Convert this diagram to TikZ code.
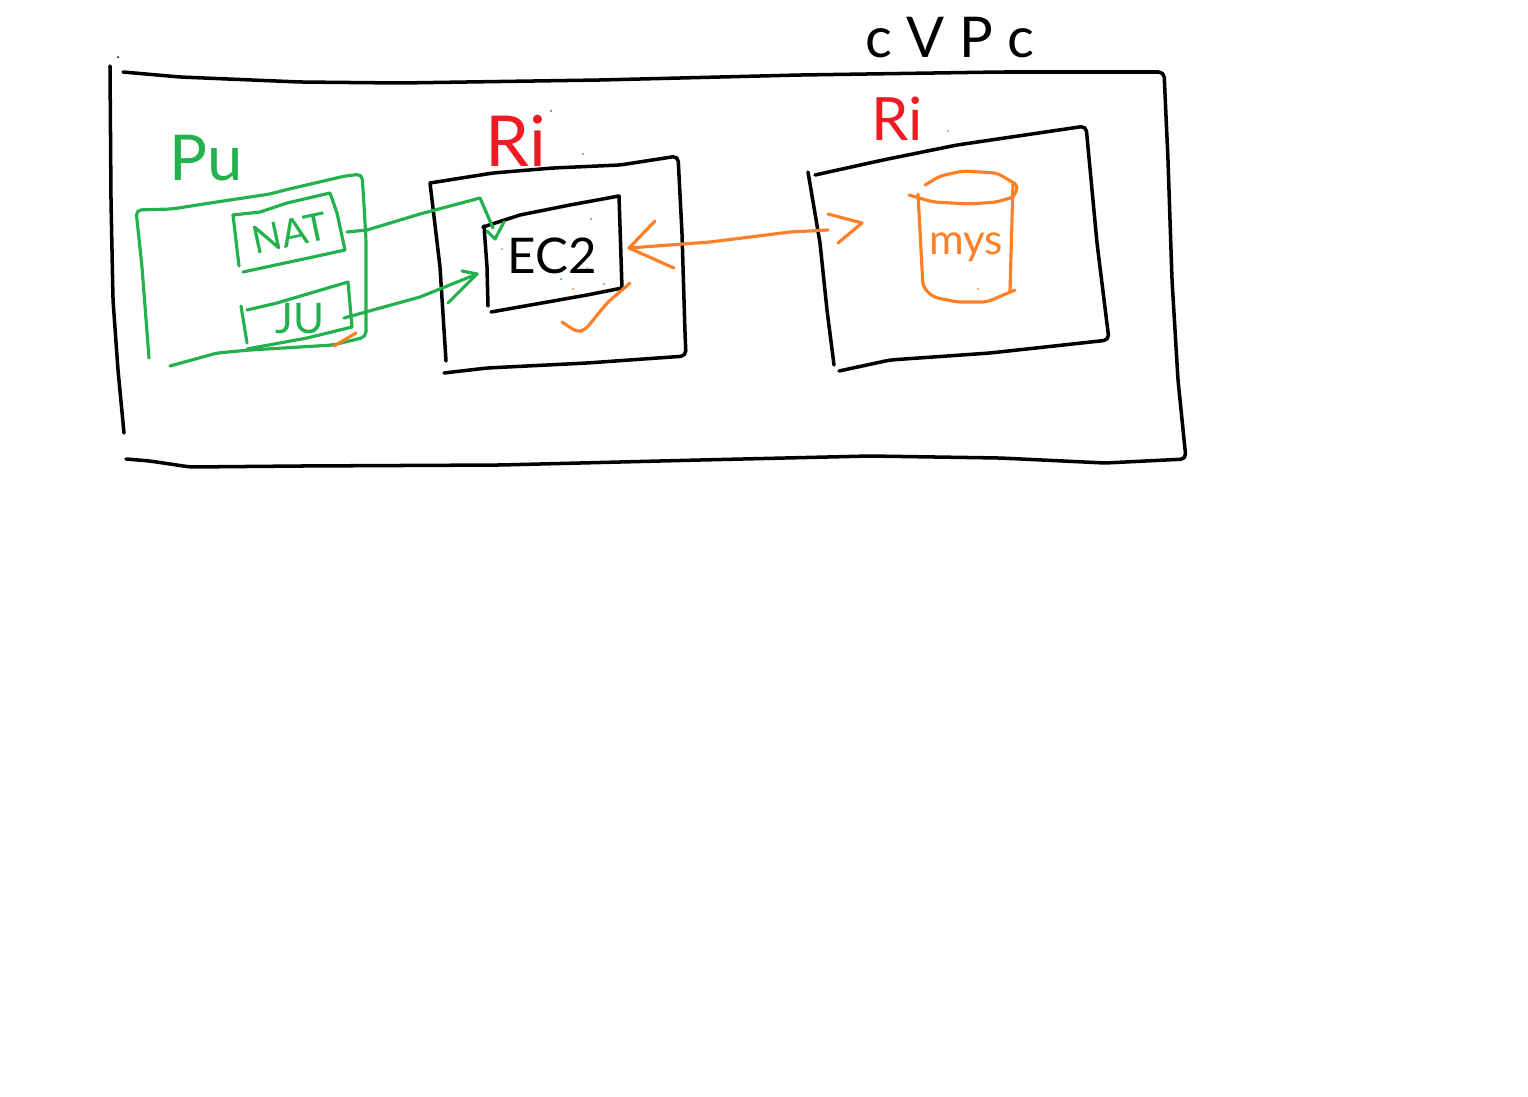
\documentclass[tikz,border=0pt]{standalone}
\usepackage{fontspec}
\setmainfont{Lato}
\usepackage{xcolor}
\definecolor{sketchgreen}{HTML}{22B14C}
\definecolor{sketchred}{HTML}{ED1C24}
\definecolor{sketchorange}{HTML}{FF7F27}
\tikzset{
	blackline/.style={draw=black,line width=2pt,line cap=round,line join=round},
	greenline/.style={draw=sketchgreen,line width=1.8pt,line cap=round,line join=round},
	orangeline/.style={draw=sketchorange,line width=1.8pt,line cap=round,line join=round},
	soft/.style={rounded corners=3pt},
	scrawl/.style={inner sep=0pt,font=\fontsize{#1}{#1}\selectfont},
}
\begin{document}
\begin{tikzpicture}[x=0.02cm,y=-0.02cm]
		\useasboundingbox (0,0) rectangle (1528,1096);
		
		\draw[blackline,soft] (123,72) -- (180,77) -- (300,82) -- (400,83) -- (600,80) -- (800,75) -- (1000,72) -- (1164,72) -- (1168,160) -- (1172,280) -- (1178,380) -- (1186,459) -- (1105,463) -- (1000,458) -- (870,456) -- (700,460) -- (500,465) -- (300,466) -- (190,467) -- (150,461) -- (126,459);
		\draw[blackline,soft] (110,66) -- (111,200) -- (113,300) -- (118,370) -- (124,433);
		\node[scrawl=32] (vpclabel) at (950,38) {c V P c};
		
		\draw[greenline,soft] (149,358) -- (142,267) -- (136,210) -- (172,209) -- (210,203) -- (270,194) -- (285,190) -- (345,176) -- (362,174) -- (364,205) -- (366,240) -- (366,337) -- (345,342) -- (333,345) -- (250,350) -- (217,353) -- (170,366);
		\draw[orangeline] (334,346) -- (356,333);
		\node[scrawl=36,text=sketchgreen] (publabel) at (206,158) {Pu};
		
		\draw[greenline] (239,266) -- (233,215) -- (260,212) -- (287,203) -- (330,193) -- (337,213) -- (345,250) -- (313,257) -- (243,272);
		\node[scrawl=22,text=sketchgreen,rotate=12] (nat) at (290,233) {NAT};
		\draw[greenline] (247,310) -- (277,303) -- (348,282) -- (352,327) -- (307,338) -- (247,349);
		\draw[greenline] (241,306) -- (247,343);
		\node[scrawl=24,text=sketchgreen] (ju) at (300,319) {JU};
		
		\draw[blackline,soft] (430,183) -- (493,173) -- (553,168) -- (620,165) -- (678,156) -- (682,233) -- (685,333) -- (686,356) -- (587,363) -- (487,368) -- (444,373);
		\draw[blackline] (430,183) -- (440,267) -- (446,361);
		\node[scrawl=40,text=sketchred] (rione) at (516,141) {Ri};
		
		\draw[blackline] (483,227) -- (520,215) -- (570,205) -- (619,196) -- (622,288) -- (587,295) -- (491,312);
		\draw[blackline] (484,226) -- (487,267) -- (488,306);
		\node[scrawl=28] (ectwo) at (552,256) {EC2};
		
		\draw[blackline] (808,172) -- (820,243) -- (827,310) -- (834,365);
		\draw[blackline,soft] (815,175) -- (883,160) -- (957,145) -- (1086,126) -- (1097,243) -- (1109,340) -- (990,353) -- (890,360) -- (839,371);
		\node[scrawl=34,text=sketchred] (ritwo) at (897,119) {Ri};
		
		\draw[orangeline,soft] (925,185) -- (940,176) -- (963,171) -- (997,173) -- (1019,186) -- (1013,197);
		\draw[orangeline,soft] (909,195) -- (933,202) -- (970,204) -- (997,202) -- (1013,197);
		\draw[orangeline,soft] (918,194) -- (923,287) -- (933,297) -- (957,302) -- (987,302) -- (1015,290);
		\draw[orangeline] (1013,183) -- (1010,292);
		\node[scrawl=24,text=sketchorange] (mys) at (966,247) {mys};
		
		\coordinate (natout) at (347,232);
		\coordinate (natin) at (493,228);
		\coordinate (juout) at (344,318);
		\coordinate (juin) at (477,274);
		\coordinate (ecleft) at (629,248);
		\coordinate (dbright) at (862,223);
		
		\draw[greenline] (natout) -- (367,230) -- (420,214) -- (480,198) -- (natin);
		\draw[greenline] (487,231) -- (495,239) -- (504,222);
		\draw[greenline] (juout) -- (420,297) -- (juin);
		\draw[greenline] (462,271) -- (juin) -- (448,303);
		
		\draw[orangeline] (ecleft) -- (710,242) -- (790,232) -- (828,230);
		\draw[orangeline] (655,221) -- (ecleft) -- (674,268);
		\draw[orangeline] (828,214) -- (dbright) -- (838,243);
		
		\draw[orangeline,soft] (562,322) -- (577,332) -- (585,330) -- (607,303) -- (630,283);
		
		\fill (118,57) circle [radius=1];
		\foreach \px/\py in {591/219,583/154,561/279,604/284}
			\fill[sketchgreen] (\px,\py) circle [radius=1];
		\foreach \px/\py in {502/249,587/268,573/289,948/131,978/289}
			\fill[sketchorange] (\px,\py) circle [radius=1];
		\fill[sketchred] (551,111) circle [radius=1];
\end{tikzpicture}
\end{document}
